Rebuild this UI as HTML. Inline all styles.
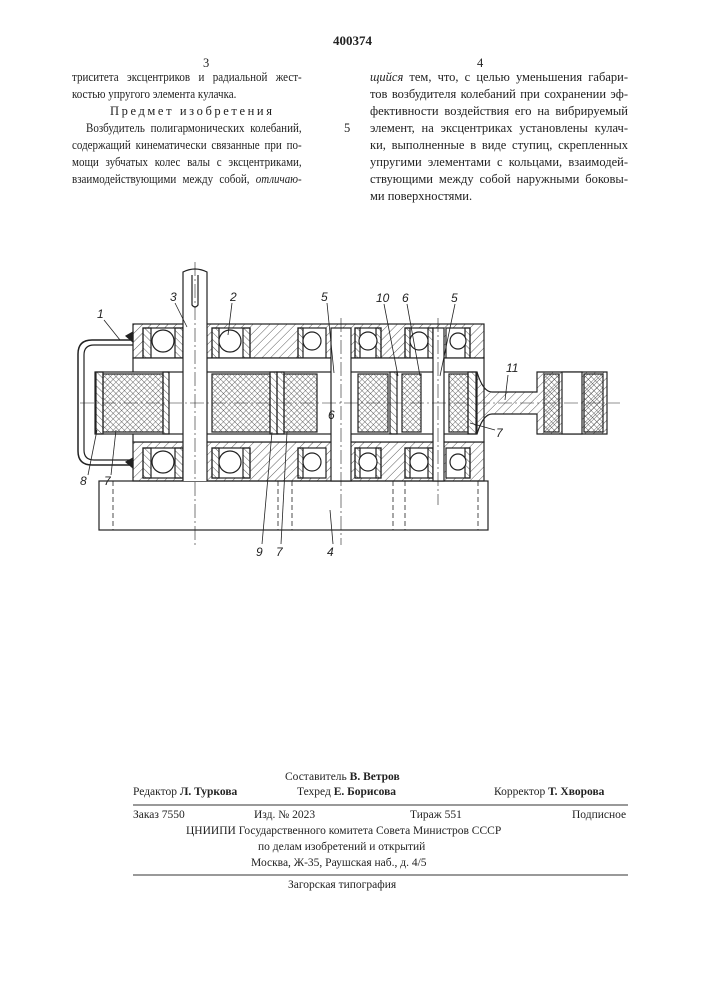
<!DOCTYPE html>
<html><head><meta charset="utf-8"><style>
body{margin:0;background:#fff;}
#p{position:relative;width:707px;height:1000px;overflow:hidden;font-family:"Liberation Serif","Noto Serif CJK SC",serif;color:#222;}
.t{position:absolute;font-size:12.5px;white-space:nowrap;line-height:1;}
.j{text-align:justify;text-align-last:justify;white-space:normal;}
.c{transform:scaleX(0.88);transform-origin:0 0;}
</style></head><body><div id="p">
<div class="t" style="left:333px;top:34px;font-weight:bold;font-size:13px;">400374</div>
<div class="t" style="left:203px;top:57px;">3</div>
<div class="t" style="left:477px;top:57px;">4</div>

<div class="t j c" style="left:72px;top:71px;width:261px;">триситета эксцентриков и радиальной жест-</div>
<div class="t c" style="left:72px;top:88px;">костью упругого элемента кулачка.</div>
<div class="t" style="left:110px;top:105px;letter-spacing:2.6px;">Предмет изобретения</div>
<div class="t j c" style="left:86px;top:122px;width:245px;">Возбудитель полигармонических колебаний,</div>
<div class="t j c" style="left:72px;top:139px;width:261px;">содержащий кинематически связанные при по-</div>
<div class="t j c" style="left:72px;top:156px;width:261px;">мощи зубчатых колес валы с эксцентриками,</div>
<div class="t j c" style="left:72px;top:173px;width:261px;">взаимодействующими между собой, <i>отличаю-</i></div>
<div class="t" style="left:344px;top:122px;">5</div>

<div class="t j" style="left:370px;top:71px;width:258px;"><i>щийся</i> тем, что, с целью уменьшения габари-</div>
<div class="t j" style="left:370px;top:88px;width:258px;">тов возбудителя колебаний при сохранении эф-</div>
<div class="t j" style="left:370px;top:105px;width:258px;">фективности воздействия его на вибрируемый</div>
<div class="t j" style="left:370px;top:122px;width:258px;">элемент, на эксцентриках установлены кулач-</div>
<div class="t j" style="left:370px;top:139px;width:258px;">ки, выполненные в виде ступиц, скрепленных</div>
<div class="t j" style="left:370px;top:156px;width:258px;">упругими элементами с кольцами, взаимодей-</div>
<div class="t j" style="left:370px;top:173px;width:258px;">ствующими между собой наружными боковы-</div>
<div class="t" style="left:370px;top:190px;">ми поверхностями.</div>

<svg style="position:absolute;left:0;top:0" width="707" height="1000" font-family="Liberation Sans, sans-serif" font-style="italic" font-size="12">
<defs>
<pattern id="h" width="6" height="6" patternUnits="userSpaceOnUse" patternTransform="rotate(45)"><line x1="0" y1="0" x2="0" y2="6" stroke="#333" stroke-width="0.8"/></pattern>
<pattern id="h2" width="5" height="5" patternUnits="userSpaceOnUse" patternTransform="rotate(-45)"><line x1="0" y1="0" x2="0" y2="5" stroke="#333" stroke-width="0.8"/></pattern>
<pattern id="x" width="4" height="4" patternUnits="userSpaceOnUse" patternTransform="rotate(45)"><path d="M0 0V4M0 0H4" stroke="#333" stroke-width="0.7"/></pattern>
</defs>
<g stroke="#222" stroke-width="1.2" fill="none">
<rect x="99" y="481" width="389" height="49" fill="#fff"/>
<g stroke-dasharray="5,3" stroke-width="0.8"><line x1="113" y1="481" x2="113" y2="530"/><line x1="278" y1="481" x2="278" y2="530"/><line x1="292" y1="481" x2="292" y2="530"/><line x1="393" y1="481" x2="393" y2="530"/><line x1="405" y1="481" x2="405" y2="530"/><line x1="478" y1="481" x2="478" y2="530"/></g>
<rect x="133" y="324" width="351" height="34" fill="url(#h)"/>
<rect x="133" y="442" width="351" height="39" fill="url(#h)"/>
<g fill="#fff">
<rect x="143" y="328" width="40" height="30"/><rect x="212" y="328" width="38" height="30"/><rect x="298" y="328" width="28" height="30"/><rect x="355" y="328" width="26" height="30"/><rect x="405" y="328" width="28" height="30"/><rect x="446" y="328" width="24" height="30"/>
<rect x="143" y="448" width="40" height="30"/><rect x="212" y="448" width="38" height="30"/><rect x="298" y="448" width="28" height="30"/><rect x="355" y="448" width="26" height="30"/><rect x="405" y="448" width="28" height="30"/><rect x="446" y="448" width="24" height="30"/>
</g>
<g fill="url(#h2)"><rect x="143" y="328" width="8" height="30"/><rect x="175" y="328" width="8" height="30"/><rect x="212" y="328" width="7" height="30"/><rect x="243" y="328" width="7" height="30"/><rect x="143" y="448" width="8" height="30"/><rect x="175" y="448" width="8" height="30"/><rect x="212" y="448" width="7" height="30"/><rect x="243" y="448" width="7" height="30"/><rect x="298" y="328" width="5" height="30"/><rect x="355" y="328" width="5" height="30"/><rect x="376" y="328" width="5" height="30"/><rect x="405" y="328" width="5" height="30"/><rect x="428" y="328" width="5" height="30"/><rect x="465" y="328" width="5" height="30"/><rect x="298" y="448" width="5" height="30"/><rect x="355" y="448" width="5" height="30"/><rect x="376" y="448" width="5" height="30"/><rect x="405" y="448" width="5" height="30"/><rect x="428" y="448" width="5" height="30"/><rect x="465" y="448" width="5" height="30"/></g>
<g fill="#fff"><circle cx="163" cy="341" r="11"/><circle cx="230" cy="341" r="11"/><circle cx="312" cy="341" r="9"/><circle cx="368" cy="341" r="9"/><circle cx="419" cy="341" r="9"/><circle cx="458" cy="341" r="8"/>
<circle cx="163" cy="462" r="11"/><circle cx="230" cy="462" r="11"/><circle cx="312" cy="462" r="9"/><circle cx="368" cy="462" r="9"/><circle cx="419" cy="462" r="9"/><circle cx="458" cy="462" r="8"/></g>
<rect x="133" y="358" width="351" height="84" fill="#fff"/>
<rect x="95" y="372" width="382" height="62" fill="#fff"/>
<g fill="url(#x)"><rect x="103" y="374" width="60" height="58"/><rect x="212" y="374" width="58" height="58"/><rect x="284" y="374" width="33" height="58"/><rect x="358" y="374" width="30" height="58"/><rect x="402" y="374" width="19" height="58"/><rect x="449" y="374" width="19" height="58"/></g>
<g fill="url(#h2)"><rect x="96" y="372" width="7" height="62"/><rect x="163" y="372" width="6" height="62"/><rect x="270" y="372" width="7" height="62"/><rect x="277" y="372" width="7" height="62"/><rect x="390" y="372" width="7" height="62"/><rect x="468" y="372" width="8" height="62"/></g>
<path d="M477 372 Q483 392 492 392 H537 V372 H607 V434 H537 V414 H492 Q483 414 477 434" fill="url(#h)"/>
<rect x="544" y="374" width="15" height="58" fill="url(#x)"/><rect x="584" y="374" width="19" height="58" fill="url(#x)"/><rect x="562" y="372" width="20" height="62" fill="#fff"/>
<path d="M183 481 V272 Q195 266 207 272 V481" fill="#fff"/>
<path d="M192 275 V305 Q195 309 198 305 V275"/>
<rect x="331" y="328" width="20" height="153" fill="#fff"/>
<rect x="433" y="328" width="11" height="153" fill="#fff"/>
<path d="M133 340 H92 Q78 340 78 354 V451 Q78 465 92 465 H133" stroke-width="1.5"/>
<path d="M133 345 H94 Q84 345 84 355 V450 Q84 460 94 460 H133"/>
<path d="M126 336 l7 -4 v10z M126 462 l7 -4 v10z" fill="#222"/>
<g stroke-width="0.6" stroke-dasharray="14,3,2,3"><line x1="80" y1="403" x2="620" y2="403"/><line x1="195" y1="262" x2="195" y2="545"/><line x1="341" y1="318" x2="341" y2="545"/><line x1="438" y1="318" x2="438" y2="505"/></g>
<g stroke-width="0.8"><line x1="104" y1="320" x2="120" y2="340"/><line x1="175" y1="303" x2="187" y2="327"/><line x1="232" y1="303" x2="228" y2="335"/><line x1="327" y1="303" x2="334" y2="373"/><line x1="384" y1="304" x2="398" y2="376"/><line x1="407" y1="304" x2="420" y2="376"/><line x1="455" y1="304" x2="440" y2="376"/><line x1="508" y1="375" x2="505" y2="400"/><line x1="495" y1="430" x2="470" y2="423"/><line x1="88" y1="475" x2="97" y2="430"/><line x1="111" y1="475" x2="116" y2="430"/><line x1="262" y1="544" x2="272" y2="432"/><line x1="281" y1="544" x2="287" y2="432"/><line x1="333" y1="544" x2="330" y2="510"/></g>
</g>
<g fill="#222" stroke="none">
<text x="97" y="318">1</text><text x="170" y="301">3</text><text x="230" y="301">2</text><text x="321" y="301">5</text><text x="376" y="302">10</text><text x="402" y="302">6</text><text x="451" y="302">5</text><text x="506" y="372">11</text><text x="328" y="419">6</text><text x="496" y="437">7</text><text x="80" y="485">8</text><text x="104" y="485">7</text><text x="256" y="556">9</text><text x="276" y="556">7</text><text x="327" y="556">4</text>
</g>
<line x1="133" y1="805" x2="628" y2="805" stroke="#333" stroke-width="1"/>
<line x1="133" y1="875" x2="628" y2="875" stroke="#333" stroke-width="1"/>
</svg>

<div class="t" style="left:285px;top:772px;font-size:11.5px;">Составитель <b>В. Ветров</b></div>
<div class="t" style="left:133px;top:787px;font-size:11.5px;">Редактор <b>Л. Туркова</b></div>
<div class="t" style="left:297px;top:787px;font-size:11.5px;">Техред <b>Е. Борисова</b></div>
<div class="t" style="left:494px;top:787px;font-size:11.5px;">Корректор <b>Т. Хворова</b></div>
<div class="t" style="left:133px;top:810px;font-size:11.5px;">Заказ 7550</div>
<div class="t" style="left:254px;top:810px;font-size:11.5px;">Изд. № 2023</div>
<div class="t" style="left:410px;top:810px;font-size:11.5px;">Тираж 551</div>
<div class="t" style="left:572px;top:810px;font-size:11.5px;">Подписное</div>
<div class="t" style="left:186px;top:826px;font-size:11.5px;">ЦНИИПИ Государственного комитета Совета Министров СССР</div>
<div class="t" style="left:258px;top:842px;font-size:11.5px;">по делам изобретений и открытий</div>
<div class="t" style="left:251px;top:858px;font-size:11.5px;">Москва, Ж-35, Раушская наб., д. 4/5</div>
<div class="t" style="left:288px;top:880px;font-size:11.5px;">Загорская типография</div>
</div></body></html>
